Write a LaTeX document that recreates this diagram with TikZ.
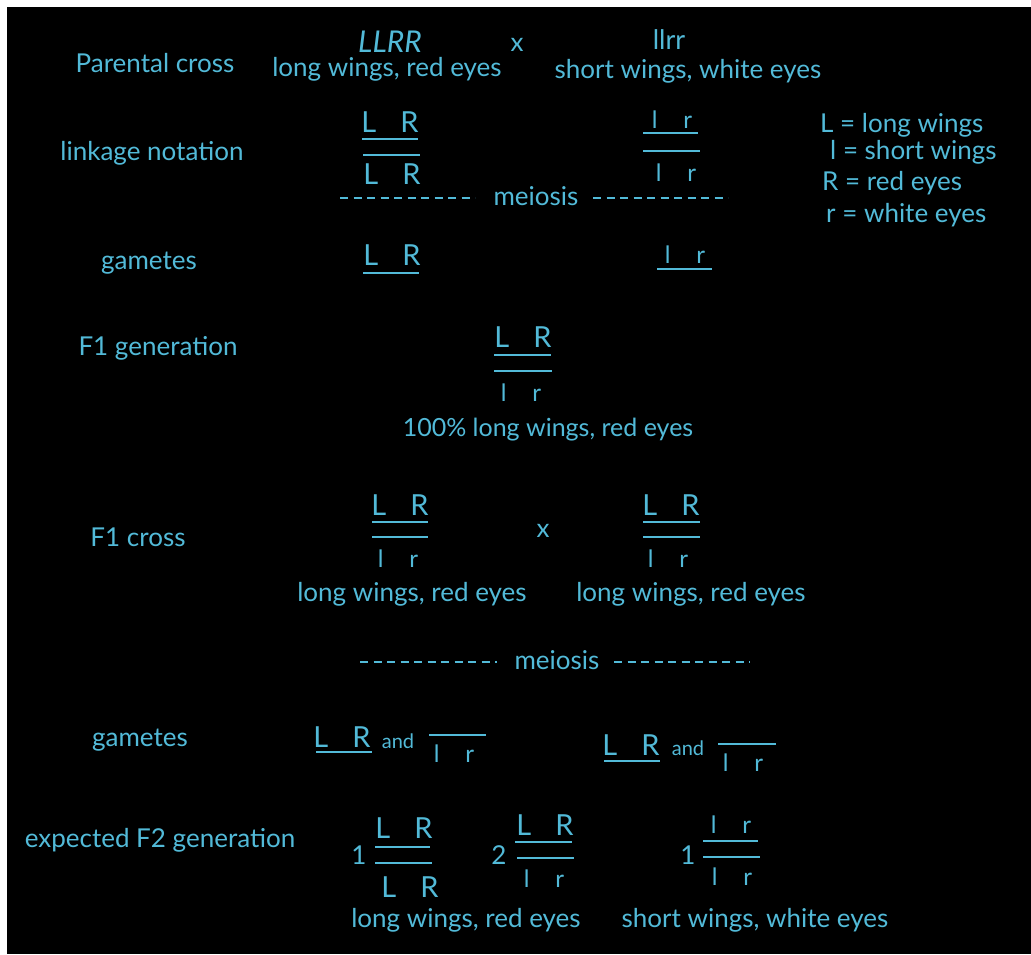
\documentclass[tikz,border=0pt]{standalone}
\usepackage{fontspec}
\setmainfont{Lato}
\definecolor{cy}{RGB}{82,186,216}
\newcommand\LRal{L\hspace{24pt}R}
\newcommand\lral{l\hspace{26pt}r}
\begin{document}
\begin{tikzpicture}[x=1pt,y=-1pt,
  txt/.style={text=cy,font=\fontsize{26}{29}\selectfont,inner sep=0pt},
  al/.style={text=cy,font=\fontsize{29}{31}\selectfont,inner sep=0pt,anchor=base},
  sm/.style={text=cy,font=\fontsize{24}{26}\selectfont,inner sep=0pt,anchor=base},
  leg/.style={txt,anchor=west},
  chrom/.style={draw=cy,line width=2.2pt},
  dashline/.style={draw=cy,line width=2pt,dash pattern=on 8pt off 5.5pt}]
\useasboundingbox (0,0) rectangle (1031,954);
\fill[white] (0,0) rectangle (1031,954);
\fill[black] (7,7) rectangle (1031,954);
% row labels
\node[txt] (pc) at (155,63) {Parental cross};
\node[txt] (ln) at (152,153) {linkage notation};
\node[txt] (g1) at (149,263) {gametes};
\node[txt] (f1g) at (158,348) {F1 generation};
\node[txt] (f1c) at (138,537) {F1 cross};
\node[txt] (g2) at (140,740) {gametes};
\node[txt] (ef2) at (160,840) {expected F2 generation};
% parental cross
\node[txt,font=\itshape\fontsize{30}{32}\selectfont,anchor=base] (LLRR) at (390,52) {LLRR};
\node[txt] (plw) at (387,69) {long wings, red eyes};
\node[txt] (px) at (517,45) {x};
\node[txt,font=\fontsize{27}{29}\selectfont] (llrr) at (669,40) {llrr};
\node[txt] (psw) at (688,71) {short wings, white eyes};
% linkage notation
\node[al] (ln1t) at (390,132) {\LRal};
\draw[chrom] (362,139) -- (418,139);
\draw[chrom] (363,155) -- (420,155);
\node[al] (ln1b) at (392,184) {\LRal};
\node[sm] (ln2t) at (672,128) {\lral};
\draw[chrom] (643,133) -- (698,133);
\draw[chrom] (643,151) -- (700,151);
\node[sm] (ln2b) at (676,181) {\lral};
% meiosis 1
\node[txt] (mei1) at (536,196) {meiosis};
\coordinate (d1a) at (340,198);
\coordinate (d1b) at (475,198);
\coordinate (d1c) at (593,198);
\coordinate (d1d) at (728,198);
\draw[dashline] (d1a) -- (d1b);
\draw[dashline] (d1c) -- (d1d);
% gametes 1
\node[al] (ga1) at (392,265) {\LRal};
\draw[chrom] (363,273) -- (419,273);
\node[sm] (ga2) at (685,263) {\lral};
\draw[chrom] (657,269) -- (712,269);
% legend
\node[leg] (leg1) at (820,125) {L = long wings};
\node[leg] (leg2) at (830,152) {l = short wings};
\node[leg] (leg3) at (822,183) {R = red eyes};
\node[leg] (leg4) at (826,215) {r = white eyes};
% F1 generation
\node[al] (f1t) at (523,347) {\LRal};
\draw[chrom] (494,355) -- (551,355);
\draw[chrom] (494,371) -- (552,371);
\node[sm] (f1b) at (521,401) {\lral};
\node[txt,font=\fontsize{25}{28}\selectfont] (f1p) at (548,430) {100\% long wings, red eyes};
% F1 cross
\node[al] (c1t) at (400,515) {\LRal};
\draw[chrom] (372,522) -- (428,522);
\draw[chrom] (372,537) -- (428,537);
\node[sm] (c1b) at (398,567) {\lral};
\node[txt] (c1p) at (412,594) {long wings, red eyes};
\node[txt] (cx) at (543,531) {x};
\node[al] (c2t) at (671,515) {\LRal};
\draw[chrom] (643,522) -- (700,522);
\draw[chrom] (643,537) -- (700,537);
\node[sm] (c2b) at (668,567) {\lral};
\node[txt] (c2p) at (691,594) {long wings, red eyes};
% meiosis 2
\node[txt] (mei2) at (557,660) {meiosis};
\coordinate (d2a) at (360,662);
\coordinate (d2b) at (497,662);
\coordinate (d2c) at (614,662);
\coordinate (d2d) at (750,662);
\draw[dashline] (d2a) -- (d2b);
\draw[dashline] (d2c) -- (d2d);
% gametes 2
\node[al] (gb1) at (342,747) {\LRal};
\draw[chrom] (316,752) -- (372,752);
\node[txt,font=\fontsize{20}{22}\selectfont] (and1) at (398,741) {and};
\draw[chrom] (429,735) -- (486,735);
\node[sm] (gb2) at (454,762) {\lral};
\node[al] (gb3) at (631,755) {\LRal};
\draw[chrom] (604,761) -- (660,761);
\node[txt,font=\fontsize{20}{22}\selectfont] (and2) at (688,748) {and};
\draw[chrom] (718,744) -- (776,744);
\node[sm] (gb4) at (743,771) {\lral};
% F2
\node[txt] (n1) at (359,855) {1};
\node[al] (p1t) at (404,838) {\LRal};
\draw[chrom] (375,847) -- (430,847);
\draw[chrom] (375,863) -- (432,863);
\node[al] (p1b) at (410,897) {\LRal};
\node[txt] (n2) at (499,855) {2};
\node[al] (p2t) at (545,835) {\LRal};
\draw[chrom] (515,842) -- (572,842);
\draw[chrom] (517,858) -- (574,858);
\node[sm] (p2b) at (544,887) {\lral};
\node[txt] (n3) at (688,855) {1};
\node[sm] (p3t) at (731,833) {\lral};
\draw[chrom] (703,841) -- (758,841);
\draw[chrom] (703,857) -- (760,857);
\node[sm] (p3b) at (732,885) {\lral};
\node[txt] (f2a) at (466,920) {long wings, red eyes};
\node[txt] (f2b) at (755,920) {short wings, white eyes};
\end{tikzpicture}
\end{document}
